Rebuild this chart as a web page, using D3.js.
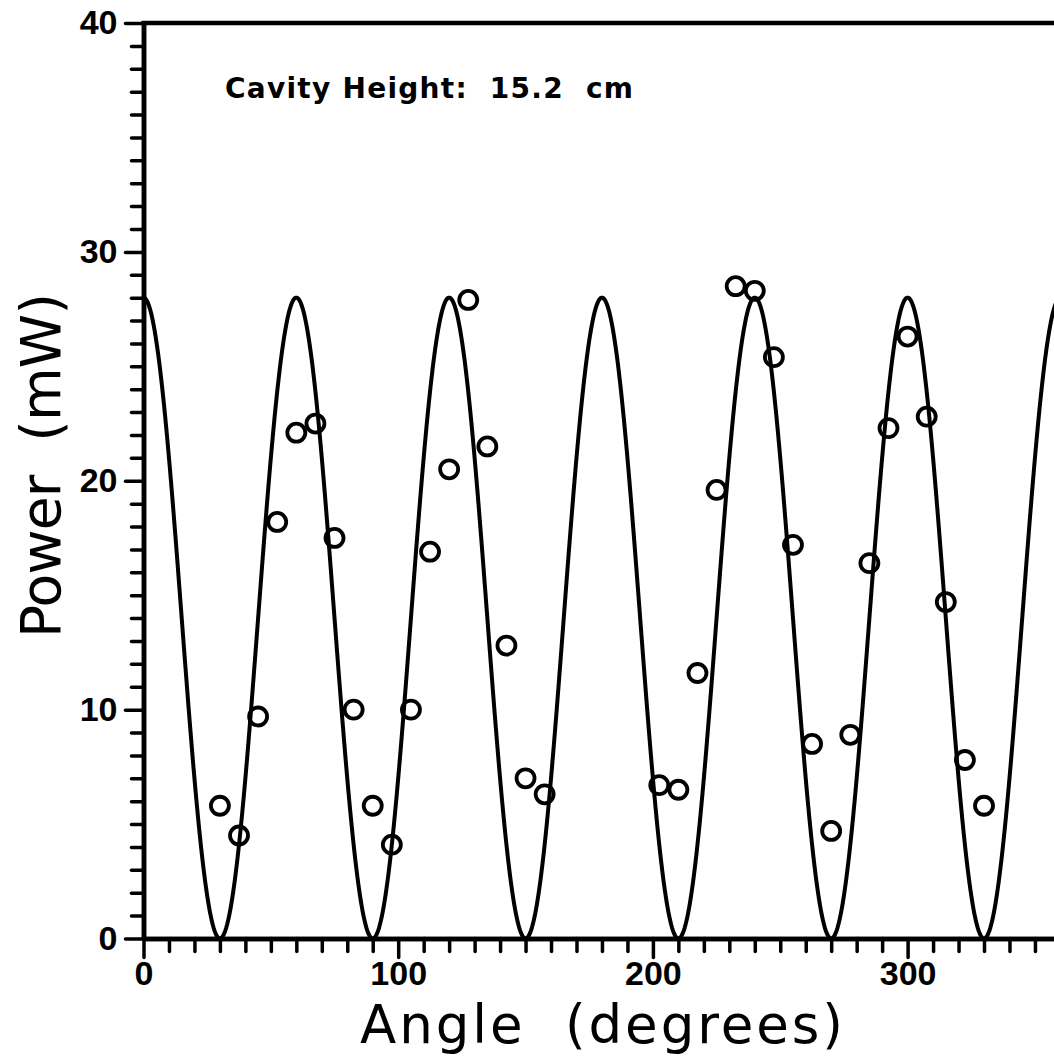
<!DOCTYPE html>
<html><head><meta charset="utf-8">
<script src="https://cdn.jsdelivr.net/npm/d3@7"></script>
<style>html,body{margin:0;padding:0;background:#fff;overflow:hidden}</style>
</head><body>
<script>
// ---- data ----
const angles = [30,37.5,45,52.5,60,67.5,75,82.5,90,97.5,105,112.5,120,127.5,135,142.5,150,157.5,
                202.5,210,217.5,225,232.5,240,247.5,255,262.5,270,277.5,285,292.5,300,307.5,315,322.5,330];
const powers = [5.8,4.5,9.7,18.2,22.1,22.5,17.5,10.0,5.8,4.1,10.0,16.9,20.5,27.9,21.5,12.8,7.0,6.3,
                6.7,6.5,11.6,19.6,28.5,28.3,25.4,17.2,8.5,4.7,8.9,16.4,22.3,26.3,22.8,14.7,7.8,5.8];
const xTickValues = [0,100,200,300];
const yTickValues = [0,10,20,30,40];
const fitPeak = 28;      // mW, fitted cos^2 curve amplitude
const fitPeriod = 60;    // degrees
const annotation = "Cavity Height:  15.2  cm";
const xTitle = "Angle  (degrees)";
const yTitle = "Power  (mW)";

// ---- chart ----
const W = 1054, H = 1058;
const svg = d3.select("body").append("svg").attr("width", W).attr("height", H)
  .style("background", "#fff");

const x = d3.scaleLinear().domain([0, 400]).range([143.5, 1162.3]);
const y = d3.scaleLinear().domain([0, 40]).range([938.5, 23]);

svg.append("defs").append("clipPath").attr("id", "plot")
  .append("rect").attr("x", x(0)).attr("y", y(40)).attr("width", x(400) - x(0)).attr("height", y(0) - y(40) + 2);

// top frame line
svg.append("line").attr("x1", x(0) - 2).attr("x2", x(400)).attr("y1", y(40)).attr("y2", y(40))
  .attr("stroke", "#000").attr("stroke-width", 4.5);

// minor ticks
const yMinor = d3.range(0, 41, 1).filter(v => v % 10 !== 0);
const xMinor = d3.range(0, 401, 10).filter(v => v % 100 !== 0);

function styleAxis(g) {
  g.selectAll(".tick line").attr("stroke", "#000").attr("stroke-width", 3.5).attr("stroke-linecap", "round");
  g.select(".domain").attr("stroke", "#000").attr("stroke-width", 4.5);
}

svg.append("g").attr("transform", `translate(${x(0)},0)`)
  .call(d3.axisLeft(y).tickValues(yMinor).tickSize(12).tickSizeOuter(0).tickFormat(""))
  .call(styleAxis);
svg.append("g").attr("transform", `translate(0,${y(0)})`)
  .call(d3.axisBottom(x).tickValues(xMinor).tickSize(13).tickSizeOuter(0).tickFormat(""))
  .call(styleAxis);

const yAxis = svg.append("g").attr("transform", `translate(${x(0)},0)`)
  .call(d3.axisLeft(y).tickValues(yTickValues).tickSize(18).tickSizeOuter(0).tickPadding(8).tickFormat(d3.format("d")))
  .call(styleAxis);
const xAxis = svg.append("g").attr("transform", `translate(0,${y(0)})`)
  .call(d3.axisBottom(x).tickValues(xTickValues).tickSize(19).tickSizeOuter(0).tickPadding(3.5).tickFormat(d3.format("d")))
  .call(styleAxis);

[yAxis, xAxis].forEach(g => g.selectAll(".tick text")
  .attr("fill", "#000")
  .style("font-family", "'Liberation Sans', Arial, sans-serif")
  .style("font-weight", "bold")
  .style("font-size", "34px"));

// fitted curve
const curveData = d3.range(0, 400.01, 0.25).map(a => [a, fitPeak * Math.cos(Math.PI * a / fitPeriod) ** 2]);
svg.append("path")
  .attr("clip-path", "url(#plot)")
  .attr("d", d3.line().x(d => x(d[0])).y(d => y(d[1]))(curveData))
  .attr("fill", "none").attr("stroke", "#000").attr("stroke-width", 4).attr("stroke-linejoin", "round");

// data points
svg.append("g").selectAll("circle").data(angles.map((a, i) => [a, powers[i]])).join("circle")
  .attr("cx", d => x(d[0])).attr("cy", d => y(d[1])).attr("r", 9)
  .attr("fill", "none").attr("stroke", "#000").attr("stroke-width", 3.8);

// annotation
svg.append("text").attr("x", 225).attr("y", 98)
  .attr("textLength", 408).attr("lengthAdjust", "spacing")
  .style("white-space", "pre")
  .style("font-family", "'DejaVu Sans', sans-serif").style("font-weight", "bold").style("font-size", "28px")
  .text(annotation);

// axis titles
svg.append("text").attr("x", 360).attr("y", 1043)
  .attr("textLength", 483).attr("lengthAdjust", "spacing")
  .style("white-space", "pre")
  .style("font-family", "'DejaVu Sans', sans-serif").style("font-size", "53px")
  .text(xTitle);

svg.append("text").attr("transform", "translate(60,638) rotate(-90)")
  .attr("textLength", 345).attr("lengthAdjust", "spacing")
  .style("white-space", "pre")
  .style("font-family", "'DejaVu Sans', sans-serif").style("font-size", "55px")
  .text(yTitle);
</script>
</body></html>
